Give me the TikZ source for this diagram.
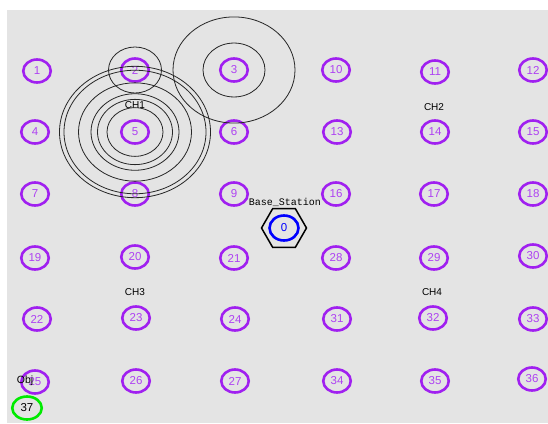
\documentclass[tikz,border=0pt]{standalone}
\usepackage{fontspec}
\setmainfont{Liberation Sans}
\newfontfamily\namfont{Liberation Mono}
\usetikzlibrary{shapes.geometric}

\definecolor{nampurple}{RGB}{160,32,240}
\definecolor{namgray}{RGB}{228,228,228}
\definecolor{namgreen}{RGB}{0,235,0}

\newcommand*{\ry}{0.87}

\begin{document}
\begin{tikzpicture}[x=1pt,y=-1pt,
	sensor/.style={ellipse,draw=nampurple,line width=2.6pt,minimum width=27.5pt,minimum height=23pt,inner sep=0pt,text=nampurple!85,font=\fontsize{11.5}{13}\selectfont},
	txrange/.style={black!85,line width=0.8pt},
	chlabel/.style={inner sep=0pt,font=\fontsize{10}{12}\selectfont}]

	\useasboundingbox (0,0) rectangle (548,423);
	\fill[namgray] (7,10) rectangle (548,423);

	% sensor nodes
	\foreach \n/\x/\y in {1/37/71,2/135/70,3/234/70,10/336/70,11/435/72,12/533/70,
		4/35/132,5/135/132,6/234/132,13/337/132,14/435/132,15/533/132,
		7/35/194,8/135/194,9/234/194,16/336/194,17/434/194,18/533/194,
		19/35/258,20/135/257,21/234/258,28/336/258,29/434/258,30/533/256,
		22/37/319,23/136/318,24/235/319,31/337/319,32/433/318,33/533/319,
		25/35/382,26/136/381,27/235/381,34/337/381,35/435/381,36/532/379}
		\node[sensor] (n\n) at (\x,\y) {\n};

	\node[sensor,draw=namgreen,text=black,minimum width=29.5pt] (n37) at (27,408) {37};
	\node[inner sep=0pt,font=\fontsize{10.5}{12}\selectfont] (obj) at (25,381) {Obj};

	% base station
	\node[regular polygon,regular polygon sides=6,draw,line width=1.5pt,minimum size=45pt,inner sep=0pt] (bs) at (284,228) {};
	\node[sensor,draw=blue,text=blue,minimum width=29pt,minimum height=25pt] (n0) at (284,228) {0};
	\node[inner sep=0pt,font=\namfont\fontsize{10}{12}\selectfont] (bslabel) at (285,202) {Base\_Station};

	% cluster heads
	\node[chlabel] (ch1) at (135,105) {CH1};
	\node[chlabel] (ch2) at (434,107) {CH2};
	\node[chlabel] (ch3) at (135,292) {CH3};
	\node[chlabel] (ch4) at (432,292) {CH4};

	% ranges
	\foreach \r in {28,37.5,44,56.5,71,75.5}
		\draw[txrange] (n5.center) ellipse [x radius=\r, y radius=\ry*\r];
	\draw[txrange] (n2.center) ellipse [x radius=26.5, y radius=23];
	\foreach \r in {31,61}
		\draw[txrange] (n3.center) ellipse [x radius=\r, y radius=\ry*\r];

\end{tikzpicture}
\end{document}
